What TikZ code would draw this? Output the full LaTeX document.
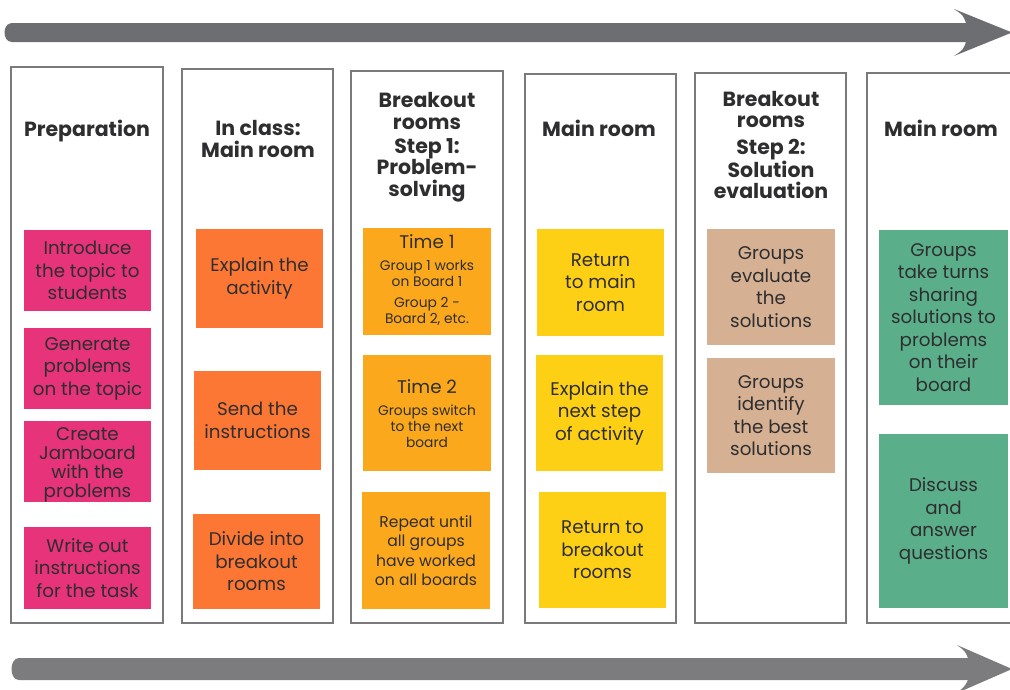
\documentclass[tikz,border=0pt]{standalone}
\usepackage{fontspec}
\setmainfont{Poppins}
\definecolor{frame}{HTML}{7A7A7C}
\definecolor{arrowA}{HTML}{6D6E71}
\definecolor{arrowB}{HTML}{7C7C7E}
\definecolor{ink}{HTML}{2E2E30}
\definecolor{cpink}{HTML}{E6337A}
\definecolor{corange}{HTML}{FD7734}
\definecolor{camber}{HTML}{FCA81C}
\definecolor{cyellow}{HTML}{FDD016}
\definecolor{ctan}{HTML}{D5B092}
\definecolor{cgreen}{HTML}{5AAE89}
\tikzset{
  colframe/.style={draw=frame, line width=2.5pt, fill=none},
  head/.style={font=\fontsize{20.5}{21.5}\selectfont\bfseries, text=ink, align=center, inner sep=0pt},
  sticky/.style={text=ink, align=center, inner sep=0pt, font=\fontsize{18.3}{22.5}\selectfont},
  small/.style={font=\fontsize{13.8}{16}\selectfont},
}
\newcommand{\note}[8][]{%
  \node[sticky, fill=#7, minimum width=#5-#3, minimum height=#6-#4, #1] (#2) at ({(#3+#5)/2},{(#4+#6)/2}) {#8};}
\begin{document}
\begin{tikzpicture}[x=1pt,y=-1pt]
\useasboundingbox (0,0) rectangle (1010,689);
\clip (0,0) rectangle (1010,689);
% timeline arrows
\fill[arrowA] (12,23) -- (966,23) .. controls (963,15) .. (954,9) -- (1012,32.5) -- (954,56) .. controls (963,50) .. (966,42) -- (12,42) .. controls (2,42) and (2,23) .. (12,23) -- cycle;
\fill[arrowB] (19,658) -- (968,658) .. controls (965,651) .. (957,645) -- (1012,669) -- (957,693) .. controls (965,686) .. (968,680) -- (19,680) .. controls (9,680) and (9,658) .. (19,658) -- cycle;
% column frames
\draw[colframe] (11,67) rectangle (163,623);
\draw[colframe] (182,69) rectangle (333,623);
\draw[colframe] (351,71) rectangle (503,623);
\draw[colframe] (525,74) rectangle (676,623);
\draw[colframe] (695,73) rectangle (846,623);
\draw[colframe] (867,73) rectangle (1030,623);
% headers
\node[head] (h1) at (87,131) {Preparation};
\node[head] (h2) at (258,139) {In class:\\Main room};
\node[head] (h3) at (427,147) {Breakout\\rooms\\[2.5pt]Step 1:\\Problem-\\solving};
\node[head] (h4) at (599,128) {Main room};
\node[head, font=\fontsize{20.5}{21}\selectfont\bfseries] (h5) at (771,145) {Breakout\\rooms\\[6pt]Step 2:\\Solution\\evaluation};
\node[head] (h6) at (941,128) {Main room};
% column 1
\note{p1}{24}{230}{151}{311}{cpink}{Introduce\\the topic to\\students}
\note{p2}{24}{328}{151}{409}{cpink}{Generate\\problems\\on the topic}
\note[font=\fontsize{18.3}{18.7}\selectfont, text depth=0pt]{p3}{24}{421}{151}{502}{cpink}{\raisebox{-2pt}{Create}\\\raisebox{-2pt}{Jamboard}\\\raisebox{-2pt}{with the}\\\raisebox{-2pt}{problems}}
\note{p4}{24}{527}{151}{609}{cpink}{Write out\\instructions\\for the task}
% column 2
\note{o1}{196}{229}{323}{328}{corange}{Explain the\\activity}
\note{o2}{194}{371}{321}{470}{corange}{Send the\\instructions}
\note{o3}{193}{514}{320}{609}{corange}{Divide into\\breakout\\rooms}
% column 3
\node[sticky, fill=camber, minimum width=128, minimum height=107] (a1) at (427,281.5) {};
\node[sticky] (a1t) at (427,242) {Time 1};
\node[sticky, small] (a1s) at (427,273) {Group 1 works\\on Board 1};
\node[sticky, small] (a1u) at (427,311) {Group 2 -\\Board 2, etc.};
\node[sticky, fill=camber, minimum width=128, minimum height=116] (a2) at (427,413) {};
\node[sticky] (a2t) at (427,387) {Time 2};
\node[sticky, small] (a2s) at (427,426) {Groups switch\\to the next\\board};
\note[font=\fontsize{15.6}{19.3}\selectfont]{a3}{362}{492}{490}{609}{camber}{Repeat until\\all groups\\have worked\\on all boards}
% column 4
\note{y1}{537}{229}{664}{336}{cyellow}{Return\\to main\\room}
\note{y2}{536}{355}{663}{471}{cyellow}{Explain the\\next step\\of activity}
\note{y3}{539}{492}{666}{608}{cyellow}{Return to\\breakout\\rooms}
% column 5
\note{t1}{707}{229}{835}{345}{ctan}{Groups\\evaluate\\the\\solutions}
\note{t2}{707}{358}{835}{473}{ctan}{Groups\\identify\\the best\\solutions}
% column 6
\note{g1}{879}{230}{1008}{405}{cgreen}{Groups\\take turns\\sharing\\solutions to\\problems\\on their\\board}
\note{g2}{879}{434}{1008}{608}{cgreen}{Discuss\\and\\answer\\questions}
\end{tikzpicture}
\end{document}
